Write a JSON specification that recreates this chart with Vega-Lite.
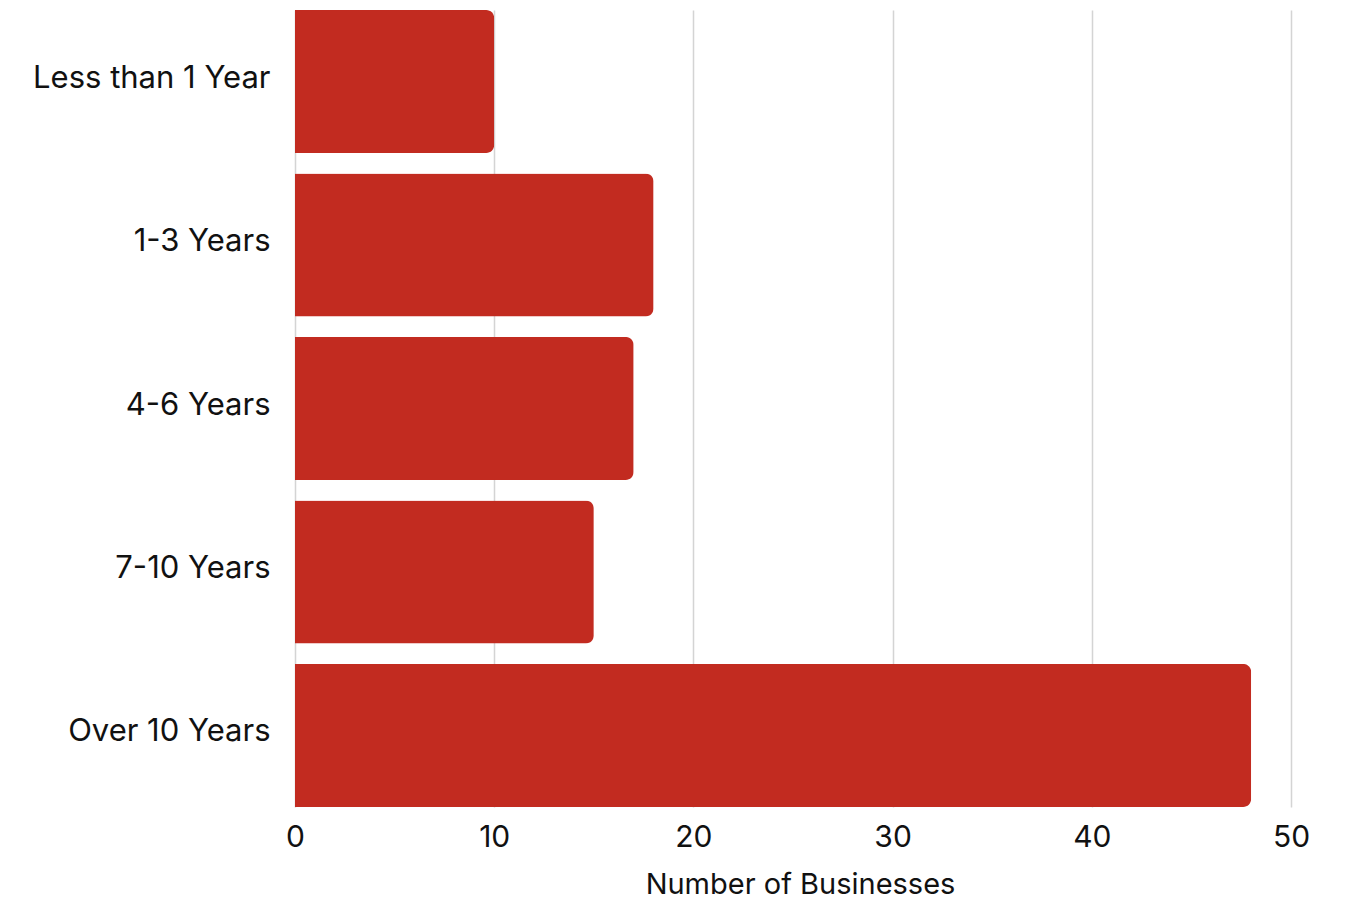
{
  "$schema": "https://vega.github.io/schema/vega-lite/v6.json",
  "width": 996,
  "height": 797,
  "autosize": {"type": "none"},
  "padding": {"left": 295, "top": 10, "right": 62, "bottom": 93},
  "background": "white",
  "config": {
    "view": {"stroke": null},
    "font": "Inter"
  },
  "data": {
    "values": [
      {"tenure": "Less than 1 Year", "count": 10},
      {"tenure": "1-3 Years", "count": 18},
      {"tenure": "4-6 Years", "count": 17},
      {"tenure": "7-10 Years", "count": 15},
      {"tenure": "Over 10 Years", "count": 48}
    ]
  },
  "mark": {"type": "bar", "color": "#C22B20", "cornerRadiusEnd": 8},
  "encoding": {
    "y": {
      "field": "tenure",
      "type": "nominal",
      "sort": null,
      "scale": {"paddingInner": 0.125, "paddingOuter": 0},
      "axis": {
        "title": null,
        "ticks": false,
        "domain": false,
        "labelFontSize": 31,
        "labelColor": "#111",
        "labelPadding": 25,
        "labelBaseline": "middle",
        "labelOffset": -3,
        "labelLimit": 400
      }
    },
    "x": {
      "field": "count",
      "type": "quantitative",
      "scale": {"domain": [0, 50], "nice": false},
      "axis": {
        "values": [0, 10, 20, 30, 40, 50],
        "title": "Number of Businesses",
        "titleFontSize": 29,
        "titleFontWeight": "normal",
        "titleColor": "#111",
        "titlePadding": 18,
        "titleX": 505,
        "labelFontSize": 30,
        "labelColor": "#111",
        "labelPadding": 15,
        "labelFlush": false,
        "ticks": false,
        "domain": false,
        "grid": true,
        "gridColor": "#d4d4d4",
        "gridWidth": 1.5
      }
    }
  }
}
